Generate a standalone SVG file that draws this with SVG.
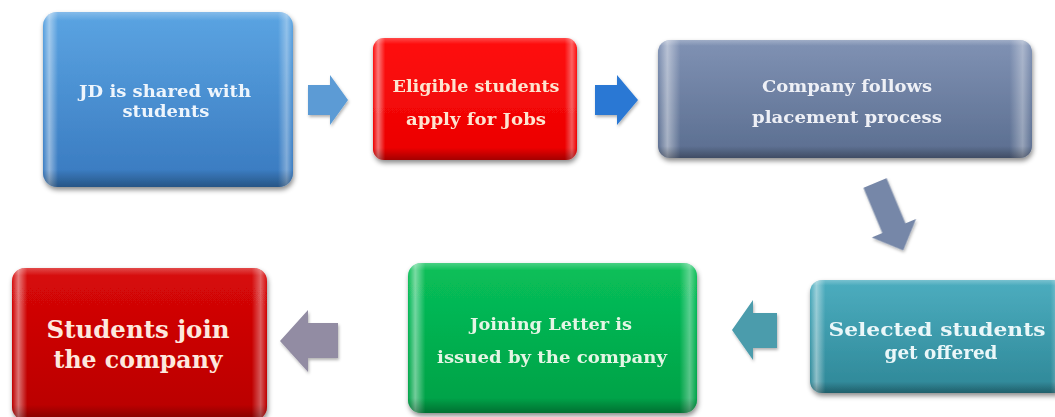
<svg xmlns="http://www.w3.org/2000/svg" width="1055" height="417" viewBox="0 0 1055 417">
<defs>
<filter id="sh" x="-10%" y="-10%" width="120%" height="130%">
<feDropShadow dx="1" dy="3" stdDeviation="2.5" flood-color="#000" flood-opacity="0.45"/>
</filter>
<filter id="ash" x="-20%" y="-20%" width="140%" height="140%">
<feDropShadow dx="1" dy="2" stdDeviation="1.5" flood-color="#000" flood-opacity="0.3"/>
</filter>
<linearGradient id="gBlue" x1="0" y1="0" x2="0" y2="1"><stop offset="0" stop-color="#5ba4e2"/><stop offset="1" stop-color="#3879bf"/></linearGradient>
<linearGradient id="gRed" x1="0" y1="0" x2="0" y2="1"><stop offset="0" stop-color="#ff1010"/><stop offset="1" stop-color="#ea0000"/></linearGradient>
<linearGradient id="gSlate" x1="0" y1="0" x2="0" y2="1"><stop offset="0" stop-color="#8092b4"/><stop offset="1" stop-color="#5a6d8f"/></linearGradient>
<linearGradient id="gTeal" x1="0" y1="0" x2="0" y2="1"><stop offset="0" stop-color="#4cadbf"/><stop offset="1" stop-color="#2e8797"/></linearGradient>
<linearGradient id="gGreen" x1="0" y1="0" x2="0" y2="1"><stop offset="0" stop-color="#08c05a"/><stop offset="1" stop-color="#00a046"/></linearGradient>
<linearGradient id="gDark" x1="0" y1="0" x2="0" y2="1"><stop offset="0" stop-color="#d80808"/><stop offset="1" stop-color="#b80000"/></linearGradient>
<linearGradient id="bevH" x1="0" y1="0" x2="1" y2="0">
<stop offset="0" stop-color="#fff" stop-opacity="0"/>
<stop offset="0.025" stop-color="#fff" stop-opacity="0.45"/>
<stop offset="0.06" stop-color="#fff" stop-opacity="0"/>
<stop offset="0.94" stop-color="#fff" stop-opacity="0"/>
<stop offset="0.975" stop-color="#fff" stop-opacity="0.35"/>
<stop offset="1" stop-color="#fff" stop-opacity="0"/>
</linearGradient>
<linearGradient id="bevV" x1="0" y1="0" x2="0" y2="1">
<stop offset="0" stop-color="#fff" stop-opacity="0.25"/>
<stop offset="0.05" stop-color="#fff" stop-opacity="0"/>
<stop offset="0.9" stop-color="#000" stop-opacity="0"/>
<stop offset="1" stop-color="#000" stop-opacity="0.3"/>
</linearGradient>
<style>
.t{font-family:"DejaVu Serif","Liberation Serif",serif;font-weight:bold;text-anchor:middle}
.bh{fill:url(#bevH)}
.bv{fill:url(#bevV)}
</style>
</defs>

<g id="connectors" filter="url(#ash)">
<polygon id="a1" fill="#5b9bd5" points="308,85 330,85 330,75 348,100 330,125 330,115 308,115"/>
<polygon id="a2" fill="#2a78d4" points="595,85 617,85 617,75 638,100 617,125 617,115 595,115"/>
<polygon id="a3" fill="#7687a8" transform="translate(875,183) rotate(67.3)" points="0,-12.5 49,-12.5 49,-24 73,0 49,24 49,12.5 0,12.5"/>
<polygon id="a4" fill="#4b9cac" points="777,313 753,313 753,300 732,330 753,360 753,348 777,348"/>
<polygon id="a5" fill="#928ca3" points="338,323 308,323 308,310 280,341 308,372 308,358 338,358"/>
</g>

<g id="n1">
<rect x="43" y="12" width="250" height="175" rx="14" fill="url(#gBlue)" filter="url(#sh)"/>
<rect x="43" y="12" width="250" height="175" rx="14" class="bh"/>
<rect x="43" y="12" width="250" height="175" rx="14" class="bv"/>
<text class="t" fill="#eef5fc" font-size="17" x="165" y="97" textLength="172" lengthAdjust="spacingAndGlyphs">JD is shared with</text>
<text class="t" fill="#eef5fc" font-size="17" x="166" y="117" textLength="87" lengthAdjust="spacingAndGlyphs">students</text>
</g>

<g id="n2">
<rect x="373" y="38" width="204" height="122" rx="11" fill="url(#gRed)" filter="url(#sh)"/>
<rect x="373" y="38" width="204" height="122" rx="11" class="bh"/>
<rect x="373" y="38" width="204" height="122" rx="11" class="bv"/>
<text class="t" fill="#fde4d0" font-size="16" x="476" y="92" textLength="167" lengthAdjust="spacingAndGlyphs">Eligible students</text>
<text class="t" fill="#fde4d0" font-size="16" x="476" y="125" textLength="140" lengthAdjust="spacingAndGlyphs">apply for Jobs</text>
</g>

<g id="n3">
<rect x="658" y="40" width="374" height="118" rx="12" fill="url(#gSlate)" filter="url(#sh)"/>
<rect x="658" y="40" width="374" height="118" rx="12" class="bh"/>
<rect x="658" y="40" width="374" height="118" rx="12" class="bv"/>
<text class="t" fill="#eef0f6" font-size="17" x="847" y="92" textLength="170" lengthAdjust="spacingAndGlyphs">Company follows</text>
<text class="t" fill="#eef0f6" font-size="17" x="847" y="123" textLength="190" lengthAdjust="spacingAndGlyphs">placement process</text>
</g>

<g id="n4">
<rect x="810" y="280" width="256" height="113" rx="12" fill="url(#gTeal)" filter="url(#sh)"/>
<rect x="810" y="280" width="256" height="113" rx="12" class="bh"/>
<rect x="810" y="280" width="256" height="113" rx="12" class="bv"/>
<text class="t" fill="#eaf7f9" font-size="19" x="937" y="336" textLength="217" lengthAdjust="spacingAndGlyphs">Selected students</text>
<text class="t" fill="#eaf7f9" font-size="19" x="941" y="359" textLength="113" lengthAdjust="spacingAndGlyphs">get offered</text>
</g>

<g id="n5">
<rect x="408" y="263" width="289" height="150" rx="13" fill="url(#gGreen)" filter="url(#sh)"/>
<rect x="408" y="263" width="289" height="150" rx="13" class="bh"/>
<rect x="408" y="263" width="289" height="150" rx="13" class="bv"/>
<text class="t" fill="#e4f5e4" font-size="17" x="551" y="330" textLength="162" lengthAdjust="spacingAndGlyphs">Joining Letter is</text>
<text class="t" fill="#e4f5e4" font-size="17" x="552" y="363" textLength="230" lengthAdjust="spacingAndGlyphs">issued by the company</text>
</g>

<g id="n6">
<rect x="12" y="268" width="255" height="152" rx="13" fill="url(#gDark)" filter="url(#sh)"/>
<rect x="12" y="268" width="255" height="152" rx="13" class="bh"/>
<rect x="12" y="268" width="255" height="152" rx="13" class="bv"/>
<text class="t" fill="#fde8de" font-size="24" x="138" y="338" textLength="183" lengthAdjust="spacingAndGlyphs">Students join</text>
<text class="t" fill="#fde8de" font-size="24" x="138" y="368" textLength="169" lengthAdjust="spacingAndGlyphs">the company</text>
</g>
</svg>
